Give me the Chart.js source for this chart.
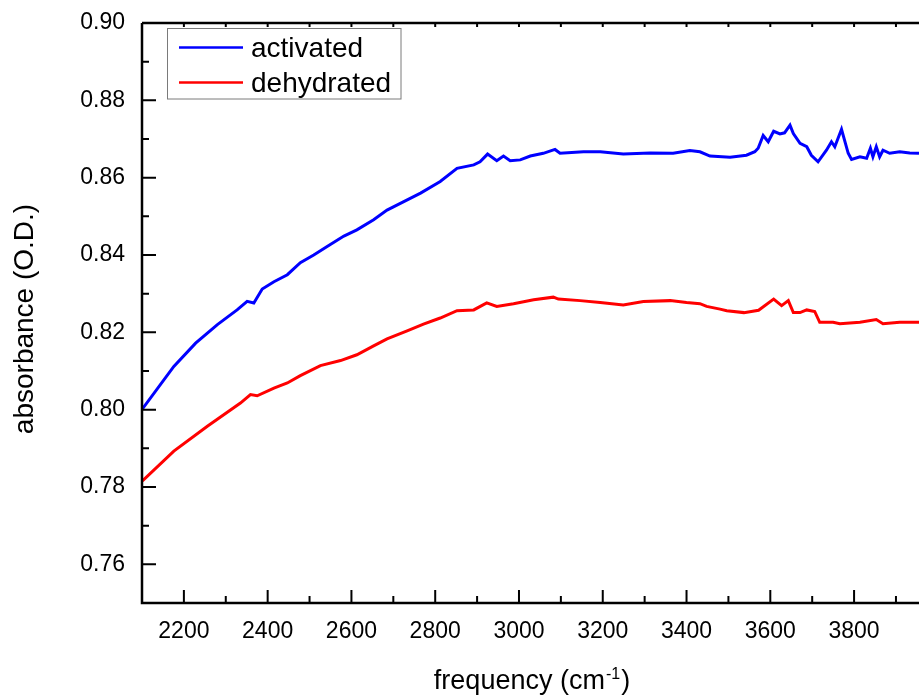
<!DOCTYPE html>
<html>
<head>
<meta charset="utf-8">
<script src="https://cdn.jsdelivr.net/npm/chart.js@4.4.1/dist/chart.umd.min.js"></script>
<style>
  html, body { margin: 0; padding: 0; background: #fff; }
  #wrap { width: 919px; height: 698px; position: relative; }
</style>
</head>
<body>
<div id="wrap"><canvas id="chart"></canvas></div>
<script>
// values (frequency in cm-1, absorbance in O.D.)
const activatedFreq = [2101, 2176, 2228, 2280, 2327, 2351, 2367, 2387, 2415, 2447, 2478, 2510, 2542, 2582, 2613, 2653, 2685, 2725, 2765, 2812, 2852, 2892, 2907, 2925, 2947, 2963, 2979, 3003, 3027, 3058, 3086, 3098, 3154, 3194, 3249, 3313, 3368, 3408, 3432, 3456, 3504, 3543, 3563, 3571, 3583, 3595, 3608, 3623, 3634, 3647, 3655, 3671, 3687, 3698, 3714, 3734, 3746, 3754, 3770, 3786, 3794, 3814, 3830, 3839, 3845, 3853, 3861, 3869, 3885, 3909, 3933, 3955];
const activatedAbs = [0.8002, 0.8112, 0.8172, 0.8220, 0.8258, 0.8280, 0.8276, 0.8312, 0.8331, 0.8349, 0.8380, 0.8400, 0.8422, 0.8449, 0.8465, 0.8491, 0.8516, 0.8538, 0.8560, 0.8590, 0.8624, 0.8633, 0.8641, 0.8661, 0.8644, 0.8656, 0.8644, 0.8646, 0.8656, 0.8663, 0.8673, 0.8663, 0.8667, 0.8667, 0.8661, 0.8664, 0.8663, 0.8670, 0.8667, 0.8656, 0.8653, 0.8658, 0.8667, 0.8676, 0.8709, 0.8693, 0.8720, 0.8713, 0.8716, 0.8736, 0.8714, 0.8689, 0.8680, 0.8658, 0.8641, 0.8671, 0.8693, 0.8680, 0.8725, 0.8663, 0.8647, 0.8654, 0.8650, 0.8676, 0.8654, 0.8680, 0.8654, 0.8671, 0.8663, 0.8667, 0.8664, 0.8663];

const dehydratedFreq = [2101, 2176, 2256, 2335, 2359, 2375, 2415, 2447, 2478, 2526, 2574, 2613, 2653, 2685, 2733, 2772, 2812, 2852, 2892, 2923, 2947, 2987, 3035, 3082, 3094, 3146, 3194, 3249, 3297, 3361, 3400, 3432, 3448, 3480, 3496, 3537, 3572, 3608, 3627, 3643, 3655, 3671, 3687, 3706, 3718, 3750, 3766, 3814, 3853, 3869, 3909, 3955];
const dehydratedAbs = [0.7816, 0.7893, 0.7957, 0.8017, 0.8039, 0.8036, 0.8056, 0.8069, 0.8088, 0.8114, 0.8127, 0.8142, 0.8165, 0.8183, 0.8204, 0.8221, 0.8237, 0.8256, 0.8258, 0.8276, 0.8267, 0.8274, 0.8284, 0.8291, 0.8286, 0.8282, 0.8277, 0.8271, 0.8280, 0.8282, 0.8277, 0.8274, 0.8267, 0.8260, 0.8256, 0.8251, 0.8257, 0.8286, 0.8269, 0.8282, 0.8251, 0.8251, 0.8258, 0.8254, 0.8226, 0.8226, 0.8222, 0.8226, 0.8233, 0.8222, 0.8226, 0.8226];

const seriesNames = ['activated', 'dehydrated'];
const xTicks = [2200, 2400, 2600, 2800, 3000, 3200, 3400, 3600, 3800];
const xMinorTicks = [2300, 2500, 2700, 2900, 3100, 3300, 3500, 3700, 3900];
const yTicks = [0.76, 0.78, 0.80, 0.82, 0.84, 0.86, 0.88, 0.90];
const yMinorTicks = [0.77, 0.79, 0.81, 0.83, 0.85, 0.87, 0.89];

const FONT = '"Liberation Sans", Arial, sans-serif';

function toPoints(xs, ys) {
  return xs.map((x, i) => ({ x: x, y: ys[i] }));
}

// axes frame, inward ticks, legend and axis titles
const framePlugin = {
  id: 'frame',
  afterDatasetsDraw(chart) {
    const ctx = chart.ctx;
    const area = chart.chartArea;
    const xs = chart.scales.x;
    const ys = chart.scales.y;
    ctx.save();
    ctx.strokeStyle = '#000';
    ctx.lineWidth = 2.5;
    ctx.beginPath();
    ctx.moveTo(area.left, area.top);
    ctx.lineTo(area.right, area.top);
    ctx.moveTo(area.left, area.top);
    ctx.lineTo(area.left, area.bottom);
    ctx.lineTo(area.right, area.bottom);
    ctx.stroke();

    ctx.lineWidth = 2;
    ctx.beginPath();
    xTicks.forEach((v) => {
      const px = xs.getPixelForValue(v);
      ctx.moveTo(px, area.bottom);
      ctx.lineTo(px, area.bottom - 13);
      ctx.moveTo(px, area.top);
      ctx.lineTo(px, area.top + 4);
    });
    xMinorTicks.forEach((v) => {
      const px = xs.getPixelForValue(v);
      ctx.moveTo(px, area.bottom);
      ctx.lineTo(px, area.bottom - 7);
      ctx.moveTo(px, area.top);
      ctx.lineTo(px, area.top + 4);
    });
    yTicks.forEach((v) => {
      const py = ys.getPixelForValue(v);
      ctx.moveTo(area.left, py);
      ctx.lineTo(area.left + 14, py);
    });
    yMinorTicks.forEach((v) => {
      const py = ys.getPixelForValue(v);
      ctx.moveTo(area.left, py);
      ctx.lineTo(area.left + 7, py);
    });
    ctx.stroke();

    // legend box
    ctx.fillStyle = '#fff';
    ctx.fillRect(167, 28.5, 234, 70.5);
    ctx.strokeStyle = '#7a7a7a';
    ctx.lineWidth = 1;
    ctx.strokeRect(167.5, 28.5, 233.5, 70.5);
    const colors = chart.data.datasets.map((d) => d.borderColor);
    const rows = [47.5, 82.5];
    ctx.font = '28px ' + FONT;
    ctx.textBaseline = 'alphabetic';
    ctx.textAlign = 'left';
    seriesNames.forEach((name, i) => {
      ctx.strokeStyle = colors[i];
      ctx.lineWidth = 2.5;
      ctx.beginPath();
      ctx.moveTo(179, rows[i]);
      ctx.lineTo(243, rows[i]);
      ctx.stroke();
      ctx.fillStyle = '#000';
      ctx.fillText(name, 251, rows[i] + 9);
    });

    // x title with superscript
    const main = 'frequency (cm';
    const sup = '-1';
    const close = ')';
    ctx.font = '27px ' + FONT;
    const wMain = ctx.measureText(main).width;
    const wClose = ctx.measureText(close).width;
    ctx.font = '16px ' + FONT;
    const wSup = ctx.measureText(sup).width;
    let tx = 532 - (wMain + wSup + wClose + 2) / 2;
    ctx.fillStyle = '#000';
    ctx.font = '27px ' + FONT;
    ctx.fillText(main, tx, 689);
    tx += wMain + 1;
    ctx.font = '16px ' + FONT;
    ctx.fillText(sup, tx, 679);
    tx += wSup + 1;
    ctx.font = '27px ' + FONT;
    ctx.fillText(close, tx, 689);

    // y title
    ctx.translate(33, 319);
    ctx.rotate(-Math.PI / 2);
    ctx.textAlign = 'center';
    ctx.font = '28px ' + FONT;
    ctx.fillText('absorbance (O.D.)', 0, 0);
    ctx.restore();
  },
};

const ctx = document.getElementById('chart').getContext('2d');
const myChart = new Chart(ctx, {
  type: 'line',
  data: {
    datasets: [
      {
        label: seriesNames[0],
        data: toPoints(activatedFreq, activatedAbs),
        borderColor: '#0000ff',
        borderWidth: 3,
        pointRadius: 0,
        tension: 0,
      },
      {
        label: seriesNames[1],
        data: toPoints(dehydratedFreq, dehydratedAbs),
        borderColor: '#ff0000',
        borderWidth: 3,
        pointRadius: 0,
        tension: 0,
      },
    ],
  },
  options: {
    responsive: true,
    maintainAspectRatio: false,
    animation: false,
    layout: { padding: { top: 23, right: 0, bottom: 0, left: 0 } },
    plugins: {
      legend: { display: false },
      tooltip: { enabled: false },
    },
    scales: {
      x: {
        type: 'linear',
        min: 2100,
        max: 3955,
        afterBuildTicks: (scale) => {
          scale.ticks = xTicks.map((v) => ({ value: v }));
        },
        afterFit: (scale) => {
          scale.height = 95;
          scale.paddingLeft = 0;
          scale.paddingRight = 0;
        },
        grid: { display: false, drawTicks: false },
        border: { display: false },
        ticks: {
          autoSkip: false,
          maxRotation: 0,
          padding: 15,
          color: '#000',
          font: { family: FONT, size: 23 },
          callback: (v) => String(v),
        },
      },
      y: {
        min: 0.75,
        max: 0.90,
        afterBuildTicks: (scale) => {
          scale.ticks = yTicks.map((v) => ({ value: v }));
        },
        afterFit: (scale) => {
          scale.width = 142;
          scale.paddingTop = 0;
          scale.paddingBottom = 0;
        },
        grid: { display: false, drawTicks: false },
        border: { display: false },
        ticks: {
          padding: 17,
          color: '#000',
          font: { family: FONT, size: 23 },
          callback: (v) => v.toFixed(2),
        },
      },
    },
  },
  plugins: [framePlugin],
});
</script>
</body>
</html>
